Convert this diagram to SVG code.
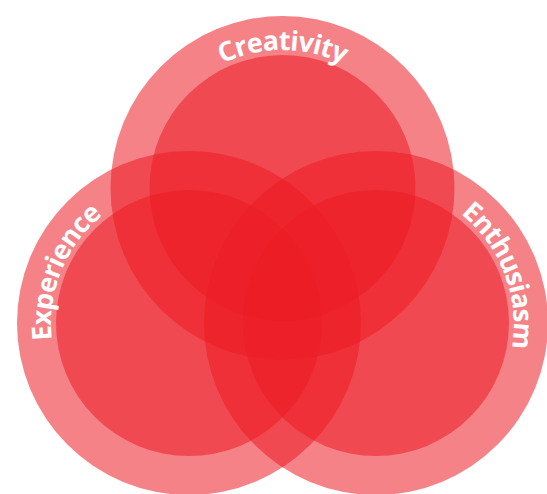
<svg xmlns="http://www.w3.org/2000/svg" xmlns:xlink="http://www.w3.org/1999/xlink" width="547" height="494" viewBox="0 0 547 494">
<style>
.c{fill:#ec1c24;fill-opacity:0.55}
.t{font-family:"Open Sans","Noto Sans",sans-serif;font-weight:700;font-size:27px;letter-spacing:-0.8px;fill:#ffffff}
</style>
<defs>
<path id="pTop" d="M 143.5 189 A 139 139 0 0 1 421.5 189"/>
<path id="pLeft" d="M 136.2 453.7 A 141 141 0 0 1 241.8 192.3"/>
<path id="pRight" d="M 325.5 191.4 A 141 141 0 0 1 426.5 454.6"/>
</defs>
<rect width="547" height="494" fill="#ffffff"/>
<g id="creativity">
<circle class="c" cx="282.5" cy="188" r="172"/>
<circle class="c" cx="282.5" cy="188" r="133"/>
<text class="t" text-anchor="middle"><textPath xlink:href="#pTop" startOffset="50%">Creativity</textPath></text>
</g>
<g id="experience">
<circle class="c" cx="189" cy="323" r="172"/>
<circle class="c" cx="189" cy="323" r="133"/>
<text class="t" text-anchor="middle"><textPath xlink:href="#pLeft" startOffset="50%">Experience</textPath></text>
</g>
<g id="enthusiasm">
<circle class="c" cx="376" cy="323" r="172"/>
<circle class="c" cx="376" cy="323" r="133"/>
<text class="t" text-anchor="middle"><textPath xlink:href="#pRight" startOffset="50%">Enthusiasm</textPath></text>
</g>
<g id="connectors"/>
</svg>
